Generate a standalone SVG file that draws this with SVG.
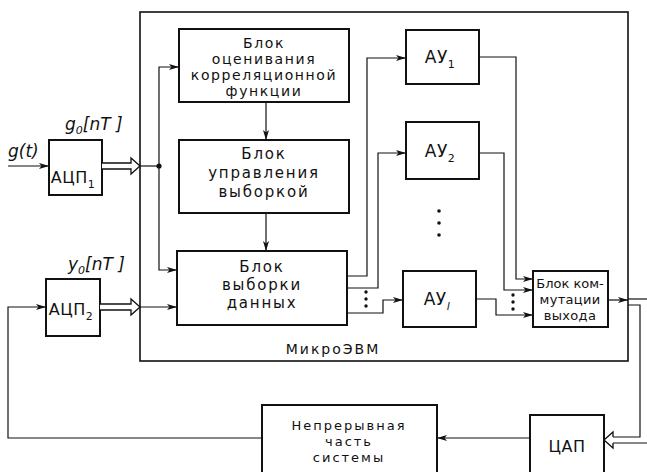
<svg xmlns="http://www.w3.org/2000/svg" width="647" height="472" viewBox="0 0 647 472">
<style>
.box{fill:#fff;stroke:#111;stroke-width:2}
.frame{fill:none;stroke:#111;stroke-width:1.6}
.ln{fill:none;stroke:#111;stroke-width:1.2}
.dbl{fill:#fff;stroke:#111;stroke-width:1.3;stroke-linejoin:miter}
.t{font-family:"DejaVu Sans","Liberation Sans",sans-serif;font-size:14px;fill:#111;text-anchor:middle;letter-spacing:1.6px}
.t15{font-size:15px;letter-spacing:1.8px}
.tl{font-family:"DejaVu Sans","Liberation Sans",sans-serif;font-size:16px;fill:#111;text-anchor:middle;letter-spacing:0.5px}
.it{font-family:"DejaVu Sans","Liberation Sans",sans-serif;font-style:italic;font-size:17px;fill:#111}
.sub{font-size:11px}
.dot{fill:#111}
</style>
<defs>
<marker id="ah" viewBox="0 0 10 6" refX="10" refY="3" markerWidth="10" markerHeight="6" orient="auto" markerUnits="userSpaceOnUse">
<path d="M0,0 L10,3 L0,6 L2.5,3 z" fill="#111"/>
</marker>
</defs>

<g id="frame">
<rect class="frame" x="140" y="12" width="488" height="349"/>
<text class="t" x="333" y="354" style="letter-spacing:2px">МикроЭВМ</text>
</g>

<g id="adc1">
<rect class="box" x="49" y="140" width="53" height="55"/>
<text class="tl" x="73" y="183">АЦП<tspan class="sub" dy="5">1</tspan></text>
</g>
<g id="adc2">
<rect class="box" x="46" y="279" width="54" height="57"/>
<text class="tl" x="71" y="315">АЦП<tspan class="sub" dy="5">2</tspan></text>
</g>
<g id="labels">
<text class="it" x="8" y="157">g(t)</text>
<text class="it" x="65" y="130">g<tspan class="sub" dy="4">0</tspan><tspan dy="-4">[nT ]</tspan></text>
<text class="it" x="68" y="270">y<tspan class="sub" dy="4">0</tspan><tspan dy="-4">[nT ]</tspan></text>
</g>

<g id="corr">
<rect class="box" x="179" y="29" width="170" height="73"/>
<text class="t" x="264" y="48">Блок</text>
<text class="t" x="264" y="64">оценивания</text>
<text class="t" x="264" y="80">корреляционной</text>
<text class="t" x="264" y="96">функции</text>
</g>
<g id="ctrl">
<rect class="box" x="179" y="140" width="170" height="73"/>
<text class="t t15" x="264" y="159">Блок</text>
<text class="t t15" x="264" y="178">управления</text>
<text class="t t15" x="264" y="197">выборкой</text>
</g>
<g id="sel">
<rect class="box" x="177" y="251" width="170" height="74"/>
<text class="t t15" x="262" y="272">Блок</text>
<text class="t t15" x="262" y="290">выборки</text>
<text class="t t15" x="262" y="308">данных</text>
</g>

<g id="au1">
<rect class="box" x="406" y="30" width="73" height="54"/>
<text class="tl" x="440" y="63" style="font-size:17px">АУ<tspan class="sub" dy="5">1</tspan></text>
</g>
<g id="au2">
<rect class="box" x="406" y="122" width="73" height="57"/>
<text class="tl" x="440" y="157" style="font-size:17px">АУ<tspan class="sub" dy="5">2</tspan></text>
</g>
<g id="aul">
<rect class="box" x="403" y="271" width="73" height="56"/>
<text class="tl" x="437" y="305" style="font-size:17px">АУ<tspan class="sub" dy="5" style="font-style:italic">l</tspan></text>
</g>

<g id="switch">
<rect class="box" x="533" y="271" width="75" height="56"/>
<text class="t" x="570" y="288" style="letter-spacing:0px;font-size:13px">Блок ком-</text>
<text class="t" x="570" y="304" style="letter-spacing:0.3px;font-size:13px">мутации</text>
<text class="t" x="570" y="320" style="letter-spacing:0.3px;font-size:13px">выхода</text>
</g>

<g id="plant">
<rect class="box" x="262" y="405" width="175" height="72"/>
<text class="t" x="349" y="430" style="font-size:13px;letter-spacing:2px">Непрерывная</text>
<text class="t" x="349" y="446" style="font-size:13px;letter-spacing:2px">часть</text>
<text class="t" x="349" y="462" style="font-size:13px;letter-spacing:2px">системы</text>
</g>
<g id="dac">
<rect class="box" x="530" y="415" width="74" height="62"/>
<text class="tl" x="567" y="452">ЦАП</text>
</g>

<g id="connectors">
<line class="ln" x1="8" y1="166" x2="49" y2="166" marker-end="url(#ah)"/>
<path class="dbl" d="M102,163 L131,163 L131,158 L140,166 L131,174 L131,169 L102,169"/>
<line class="ln" x1="140" y1="166" x2="159" y2="166"/>
<circle class="dot" cx="159" cy="166" r="2.6"/>
<path class="ln" d="M159,166 L159,67 L179,67" marker-end="url(#ah)"/>
<path class="ln" d="M159,166 L159,270 L177,270" marker-end="url(#ah)"/>
<path class="dbl" d="M100,304 L131,304 L131,299 L140,307 L131,315 L131,310 L100,310"/>
<line class="ln" x1="140" y1="307" x2="177" y2="307" marker-end="url(#ah)"/>
<line class="ln" x1="266" y1="102" x2="266" y2="140" marker-end="url(#ah)"/>
<line class="ln" x1="266" y1="213" x2="266" y2="251" marker-end="url(#ah)"/>
<path class="ln" d="M347,276 L367,276 L367,58 L406,58" marker-end="url(#ah)"/>
<path class="ln" d="M347,288 L378,288 L378,153 L406,153" marker-end="url(#ah)"/>
<path class="ln" d="M347,313 L383,313 L383,300 L403,300" marker-end="url(#ah)"/>
<circle class="dot" cx="366" cy="292" r="1.7"/>
<circle class="dot" cx="366" cy="299" r="1.7"/>
<circle class="dot" cx="366" cy="306" r="1.7"/>
<circle class="dot" cx="439" cy="211" r="1.8"/>
<circle class="dot" cx="439" cy="223" r="1.8"/>
<circle class="dot" cx="439" cy="235" r="1.8"/>
<path class="ln" d="M479,57 L516,57 L516,279 L533,279" marker-end="url(#ah)"/>
<path class="ln" d="M479,153 L504,153 L504,290 L533,290" marker-end="url(#ah)"/>
<path class="ln" d="M476,299 L496,299 L496,315 L533,315" marker-end="url(#ah)"/>
<circle class="dot" cx="513" cy="295" r="1.7"/>
<circle class="dot" cx="513" cy="302" r="1.7"/>
<circle class="dot" cx="513" cy="309" r="1.7"/>
<line class="ln" x1="608" y1="300" x2="628" y2="300" marker-end="url(#ah)"/>
<path class="ln" d="M628,299 L647,299"/>
<path class="ln" d="M628,305 L640,305 L640,437 L613,437"/>
<path class="ln" d="M647,443 L613,443"/>
<path class="dbl" d="M613,437 L613,432 L604,440 L613,448 L613,443" style="fill:none"/>
<line class="ln" x1="530" y1="438" x2="437" y2="438" marker-end="url(#ah)"/>
<path class="ln" d="M262,438 L8,438 L8,307 L46,307" marker-end="url(#ah)"/>
</g>
</svg>
